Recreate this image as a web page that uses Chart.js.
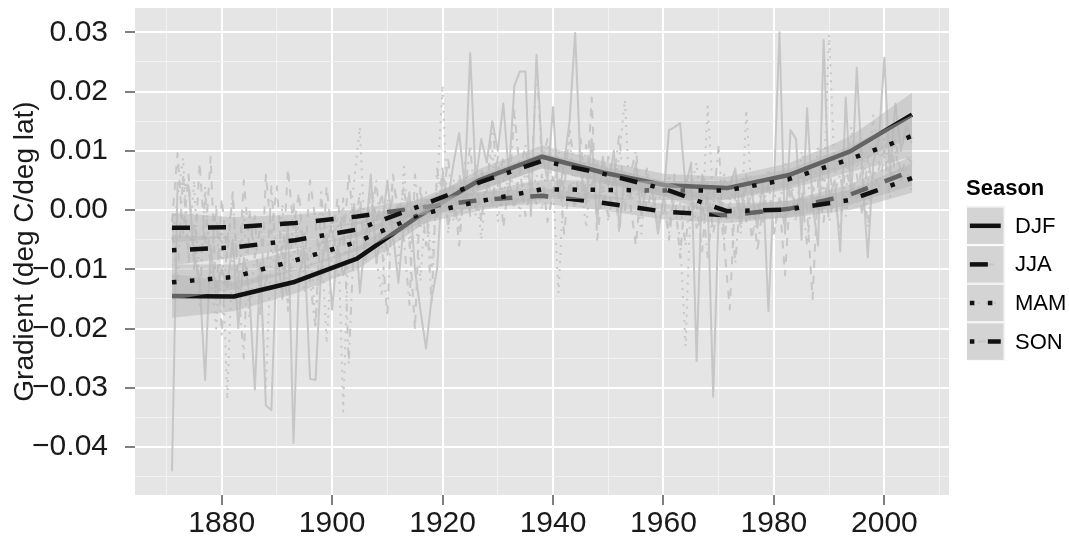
<!DOCTYPE html>
<html><head><meta charset="utf-8">
<script src="https://cdn.jsdelivr.net/npm/chart.js@4.4.1/dist/chart.umd.min.js"></script>
<style>html,body{margin:0;padding:0;background:#fff;}canvas{display:block;}</style>
</head><body>
<canvas id="c" width="1069" height="538"></canvas>
<script>
// ---------------- data ----------------
const seasons = ['DJF', 'JJA', 'MAM', 'SON'];

const years = [
 1871,1872,1873,1874,1875,1876,1877,1878,1879,1880,
 1881,1882,1883,1884,1885,1886,1887,1888,1889,1890,
 1891,1892,1893,1894,1895,1896,1897,1898,1899,1900,
 1901,1902,1903,1904,1905,1906,1907,1908,1909,1910,
 1911,1912,1913,1914,1915,1916,1917,1918,1919,1920,
 1921,1922,1923,1924,1925,1926,1927,1928,1929,1930,
 1931,1932,1933,1934,1935,1936,1937,1938,1939,1940,
 1941,1942,1943,1944,1945,1946,1947,1948,1949,1950,
 1951,1952,1953,1954,1955,1956,1957,1958,1959,1960,
 1961,1962,1963,1964,1965,1966,1967,1968,1969,1970,
 1971,1972,1973,1974,1975,1976,1977,1978,1979,1980,
 1981,1982,1983,1984,1985,1986,1987,1988,1989,1990,
 1991,1992,1993,1994,1995,1996,1997,1998,1999,2000,
 2001,2002,2003,2004,2005];

const djfRaw = [
 -0.0441, 0.0046, 0.0044, 0.0040,-0.0075,-0.0120,-0.0287,-0.0060,-0.0150,-0.0100,
 -0.0130,-0.0050,-0.0199,-0.0080,-0.0140,-0.0303,-0.0090,-0.0330,-0.0338,-0.0060,
 -0.0150,-0.0020,-0.0393,-0.0110,-0.0070,-0.0285,-0.0287,-0.0100,-0.0040,-0.0168,
 -0.0060,-0.0110,-0.0080, 0.0010,-0.0140,-0.0050, 0.0060,-0.0090,-0.0030, 0.0050,
 -0.0040,-0.0123,-0.0020, 0.0030,-0.0100,-0.0170,-0.0234,-0.0150,-0.0100, 0.0060,
  0.0020, 0.0080, 0.0130, 0.0040, 0.0265, 0.0050, 0.0120, 0.0080, 0.0150, 0.0100,
  0.0180, 0.0060, 0.0210, 0.0234, 0.0234,-0.0010, 0.0262, 0.0100, 0.0050, 0.0174,
  0.0020, 0.0080, 0.0150, 0.0299, 0.0070, 0.0010, 0.0120,-0.0020, 0.0090, 0.0040,
  0.0100,-0.0030, 0.0060, 0.0020, 0.0080,-0.0010, 0.0050, 0.0030,-0.0040, 0.0020,
  0.0135, 0.0140, 0.0147, 0.0040, 0.0080,-0.0255, 0.0060, 0.0020,-0.0315, 0.0000,
  0.0050, 0.0040, 0.0070,-0.0020, 0.0060, 0.0030,-0.0030, 0.0050,-0.0171, 0.0040,
  0.0300,-0.0040, 0.0135, 0.0120,-0.0050, 0.0172, 0.0010,-0.0060, 0.0287, 0.0020,
  0.0050,-0.0070, 0.0190, 0.0020, 0.0240, 0.0060,-0.0080, 0.0080, 0.0120, 0.0257,
  0.0060, 0.0180, 0.0100, 0.0140, 0.0120];

const jjaRaw = [
 -0.0020, 0.0096,-0.0040, 0.0060,-0.0100, 0.0080,-0.0060, 0.0090,-0.0150, 0.0020,
 -0.0080, 0.0030,-0.0120, 0.0050,-0.0060,-0.0010,-0.0180, 0.0060,-0.0040, 0.0040,
 -0.0100, 0.0070,-0.0030, 0.0030,-0.0090, 0.0050,-0.0020,-0.0120, 0.0040,-0.0050,
  0.0020,-0.0060, 0.0060,-0.0030, 0.0010,-0.0070, 0.0050,-0.0020, 0.0030,-0.0080,
  0.0060,-0.0010, 0.0040,-0.0050,-0.0202, 0.0040,-0.0060, 0.0020,-0.0020, 0.0070,
 -0.0030, 0.0040,-0.0060, 0.0050,-0.0010, 0.0080,-0.0020, 0.0060, 0.0010, 0.0090,
 -0.0030, 0.0050, 0.0000, 0.0070,-0.0010, 0.0040, 0.0010, 0.0060,-0.0020, 0.0030,
  0.0080,-0.0040, 0.0050, 0.0000, 0.0120, 0.0020, 0.0190,-0.0050, 0.0040,-0.0010,
  0.0060,-0.0040, 0.0070, 0.0010,-0.0060, 0.0050, 0.0000, 0.0040,-0.0030, 0.0020,
 -0.0050, 0.0030,-0.0080, 0.0040,-0.0020, 0.0010,-0.0070, 0.0050,-0.0040, 0.0020,
 -0.0060,-0.0168, 0.0030,-0.0030, 0.0040,-0.0050, 0.0010,-0.0020, 0.0050,-0.0040,
  0.0020,-0.0110, 0.0040,-0.0010, 0.0060, 0.0000,-0.0150, 0.0050,-0.0020, 0.0070,
  0.0010,-0.0030, 0.0080, 0.0020, 0.0060,-0.0010, 0.0090, 0.0030, 0.0070, 0.0100,
  0.0040, 0.0120, 0.0060, 0.0090, 0.0080];

const mamRaw = [
 -0.0050, 0.0020, 0.0088,-0.0080, 0.0050,-0.0150, 0.0040,-0.0100,-0.0200,-0.0040,
 -0.0320,-0.0060,-0.0150, 0.0000,-0.0183,-0.0070,-0.0120,-0.0300,-0.0050,-0.0130,
  0.0010,-0.0160,-0.0080,-0.0020,-0.0140,-0.0060,-0.0190,-0.0030,-0.0225,-0.0070,
 -0.0010,-0.0340,-0.0040, 0.0050, 0.0140,-0.0060, 0.0030,-0.0080,-0.0146, 0.0020,
 -0.0050,-0.0090, 0.0073,-0.0060, 0.0010,-0.0120, 0.0030,-0.0100, 0.0040, 0.0211,
 -0.0040, 0.0050,-0.0030, 0.0080, 0.0000, 0.0060,-0.0050, 0.0040, 0.0100,-0.0020,
  0.0050, 0.0010, 0.0080,-0.0010, 0.0070, 0.0020, 0.0060, 0.0000, 0.0090, 0.0040,
 -0.0140, 0.0060, 0.0120, 0.0010, 0.0050,-0.0030, 0.0080, 0.0020, 0.0060,-0.0020,
  0.0040, 0.0090, 0.0186, 0.0000, 0.0050,-0.0040, 0.0070, 0.0020, 0.0040,-0.0010,
  0.0060, 0.0010,-0.0050,-0.0230, 0.0040, 0.0080,-0.0020, 0.0175, 0.0020,-0.0030,
  0.0060, 0.0010, 0.0040,-0.0040, 0.0169, 0.0020, 0.0050,-0.0010, 0.0070, 0.0030,
  0.0000, 0.0080, 0.0040,-0.0020, 0.0100, 0.0050, 0.0010, 0.0110, 0.0030, 0.0296,
  0.0060, 0.0090, 0.0020, 0.0140, 0.0070, 0.0100, 0.0040, 0.0160, 0.0080, 0.0120,
  0.0060, 0.0170, 0.0100, 0.0140, 0.0110];

const sonRaw = [
 -0.0030,-0.0120, 0.0060,-0.0090,-0.0020,-0.0160, 0.0030,-0.0110, 0.0010,-0.0210,
 -0.0050, 0.0020,-0.0130,-0.0250, 0.0000,-0.0080,-0.0030,-0.0140, 0.0040,-0.0100,
 -0.0060,-0.0170, 0.0010,-0.0090,-0.0040,-0.0120,-0.0200, 0.0030,-0.0070,-0.0010,
 -0.0110, 0.0020,-0.0260,-0.0040, 0.0030,-0.0090,-0.0020, 0.0050,-0.0060,-0.0180,
  0.0040, 0.0010,-0.0050,-0.0160, 0.0060,-0.0030, 0.0020,-0.0160, 0.0070, 0.0010,
  0.0090,-0.0020, 0.0060, 0.0020, 0.0110,-0.0010, 0.0070, 0.0030, 0.0147, 0.0040,
  0.0090, 0.0020, 0.0168, 0.0060, 0.0110, 0.0030, 0.0248, 0.0080, 0.0120, 0.0050,
  0.0100, 0.0030, 0.0140, 0.0060, 0.0020, 0.0110, 0.0040, 0.0080, 0.0010, 0.0090,
  0.0050, 0.0130, 0.0000, 0.0060, 0.0100, 0.0020, 0.0070,-0.0010, 0.0050, 0.0030,
 -0.0040, 0.0060, 0.0010,-0.0060, 0.0040,-0.0030, 0.0020,-0.0080, 0.0010, 0.0110,
 -0.0050, 0.0020,-0.0090, 0.0030,-0.0020, 0.0040,-0.0070, 0.0010, 0.0050,-0.0040,
  0.0020,-0.0030, 0.0060,-0.0010, 0.0030,-0.0060, 0.0040, 0.0000, 0.0070,-0.0020,
  0.0030, 0.0060,-0.0010, 0.0050, 0.0020, 0.0080,-0.0030, 0.0070, 0.0040, 0.0090,
  0.0020, 0.0100, 0.0050, 0.0070, 0.0030];

// loess fits (evaluation points, fit, 95% half-width)
const smoothYears = [1871, 1882.2, 1893.3, 1904.5, 1915.7, 1926.8, 1938, 1949.2, 1960.3, 1971.5, 1982.7, 1993.8, 2005];
const djfSmooth = [-0.0145,-0.0146,-0.0121,-0.0082,-0.0010, 0.0051, 0.0090, 0.0063, 0.0042, 0.0037, 0.0059, 0.0099, 0.0161];
const jjaSmooth = [-0.0030,-0.0029,-0.0022,-0.0011, 0.0004, 0.0017, 0.0024, 0.0012,-0.0003,-0.0009, 0.0002, 0.0026, 0.0066];
const mamSmooth = [-0.0122,-0.0113,-0.0085,-0.0054,-0.0008, 0.0015, 0.0035, 0.0034, 0.0033, 0.0033, 0.0052, 0.0086, 0.0125];
const sonSmooth = [-0.0068,-0.0063,-0.0051,-0.0033, 0.0006, 0.0047, 0.0083, 0.0061, 0.0035,-0.0002, 0.0001, 0.0017, 0.0054];
const djfSe = [0.0037,0.0025,0.0020,0.0019,0.0019,0.0019,0.0019,0.0019,0.0019,0.0019,0.0020,0.0025,0.0037];
const jjaSe = [0.0025,0.0017,0.0014,0.0013,0.0013,0.0013,0.0013,0.0013,0.0013,0.0013,0.0014,0.0017,0.0025];
const mamSe = [0.0030,0.0021,0.0017,0.0016,0.0016,0.0016,0.0016,0.0016,0.0016,0.0016,0.0017,0.0022,0.0035];
const sonSe = [0.0025,0.0017,0.0014,0.0013,0.0013,0.0013,0.0013,0.0013,0.0013,0.0013,0.0014,0.0017,0.0025];

// axes
const xRange = [1864.3, 2011.7];
const yRange = [-0.0481, 0.0341];
const xMajor = [1880, 1900, 1920, 1940, 1960, 1980, 2000];
const xMajorLabels = ['1880', '1900', '1920', '1940', '1960', '1980', '2000'];
const xMinor = [1870, 1890, 1910, 1930, 1950, 1970, 1990, 2010];
const yMajor = [-0.04, -0.03, -0.02, -0.01, 0.00, 0.01, 0.02, 0.03];
const yMajorLabels = ['\u22120.04', '\u22120.03', '\u22120.02', '\u22120.01', '0.00', '0.01', '0.02', '0.03'];
const yMinor = [-0.045, -0.035, -0.025, -0.015, -0.005, 0.005, 0.015, 0.025];
const yTitle = 'Gradient (deg C/deg lat)';
const legendTitle = 'Season';

// ---------------- styles ----------------
const FONT = '"Liberation Sans", Arial, Helvetica, sans-serif';
const PANEL_BG = '#e5e5e5';
const RAW_COLOR = '#c6c6c6';
const BAND_FILL = 'rgba(182,182,182,0.5)';
const LINE_COLOR = '#111111';
const RAW_W = 2;
const FIT_W = 4.5;
const rawDash = [[], [8, 8], [2, 6], [2, 6, 8, 6]];
const fitDash = [[], [18, 18], [4.5, 13.5], [4.5, 13.5, 18, 13.5]];

const rawSets = [djfRaw, jjaRaw, mamRaw, sonRaw];
const fitSets = [djfSmooth, jjaSmooth, mamSmooth, sonSmooth];
const seSets = [djfSe, jjaSe, mamSe, sonSe];

const datasets = [];
rawSets.forEach((arr, i) => {
  datasets.push({
    label: seasons[i] + ' annual',
    data: years.map((yr, k) => ({x: yr, y: arr[k]})),
    borderColor: RAW_COLOR, borderWidth: RAW_W, borderDash: rawDash[i],
    borderCapStyle: 'butt', borderJoinStyle: 'round',
    pointRadius: 0, fill: false
  });
});
fitSets.forEach((arr, i) => {
  datasets.push({
    label: seasons[i] + ' lower',
    data: smoothYears.map((yr, k) => ({x: yr, y: arr[k] - seSets[i][k]})),
    borderColor: 'rgba(0,0,0,0)', borderWidth: 0, pointRadius: 0, fill: false
  });
  datasets.push({
    label: seasons[i] + ' upper',
    data: smoothYears.map((yr, k) => ({x: yr, y: arr[k] + seSets[i][k]})),
    borderColor: 'rgba(0,0,0,0)', borderWidth: 0, pointRadius: 0,
    fill: '-1', backgroundColor: BAND_FILL
  });
  datasets.push({
    label: seasons[i],
    data: smoothYears.map((yr, k) => ({x: yr, y: arr[k]})),
    borderColor: LINE_COLOR, borderWidth: FIT_W, borderDash: fitDash[i],
    borderCapStyle: 'butt', borderJoinStyle: 'round',
    pointRadius: 0, fill: false
  });
});
datasets.forEach((d, i) => { d.order = -i; });

const isMajorX = v => xMajor.some(m => Math.abs(m - v) < 1e-6);
const isMajorY = v => yMajor.some(m => Math.abs(m - v) < 1e-9);

const panelPlugin = {
  id: 'panel',
  beforeDraw(chart) {
    const {ctx, chartArea: a} = chart;
    ctx.save();
    ctx.fillStyle = PANEL_BG;
    ctx.fillRect(a.left, a.top, a.right - a.left, a.bottom - a.top);
    ctx.restore();
  },
  afterDraw(chart) {
    const ctx = chart.ctx;
    const kx = 966, ky = 206.5, ks = 38.6, tx = 1015;
    ctx.save();
    ctx.fillStyle = '#000';
    ctx.textBaseline = 'middle';
    ctx.textAlign = 'left';
    ctx.font = 'bold 22px ' + FONT;
    ctx.fillText(legendTitle, kx, 189);
    seasons.forEach((s, i) => {
      const y0 = ky + i * ks, yc = y0 + ks / 2;
      ctx.setLineDash([]);
      ctx.fillStyle = '#f2f2f2';
      ctx.fillRect(kx, y0, ks, ks);
      ctx.fillStyle = BAND_FILL;
      ctx.fillRect(kx, y0, ks, ks);
      ctx.strokeStyle = '#ffffff';
      ctx.lineWidth = 1;
      ctx.strokeRect(kx + 0.5, y0 + 0.5, ks - 1, ks - 1);
      ctx.lineCap = 'butt';
      ctx.strokeStyle = RAW_COLOR;
      ctx.lineWidth = RAW_W;
      ctx.setLineDash(rawDash[i]);
      ctx.beginPath(); ctx.moveTo(kx + 0.1 * ks, yc); ctx.lineTo(kx + 0.9 * ks, yc); ctx.stroke();
      ctx.strokeStyle = LINE_COLOR;
      ctx.lineWidth = FIT_W;
      ctx.setLineDash(fitDash[i]);
      ctx.beginPath(); ctx.moveTo(kx + 0.1 * ks, yc); ctx.lineTo(kx + 0.9 * ks, yc); ctx.stroke();
      ctx.setLineDash([]);
      ctx.fillStyle = '#000';
      ctx.font = '22px ' + FONT;
      ctx.fillText(s, tx, yc + 1);
    });
    ctx.restore();
  }
};

Chart.defaults.font.family = FONT;
Chart.defaults.color = '#1a1a1a';

new Chart(document.getElementById('c'), {
  type: 'line',
  data: {datasets},
  options: {
    responsive: false,
    animation: false,
    events: [],
    devicePixelRatio: 1,
    layout: {padding: {top: 8, right: 120, left: 0, bottom: 0}},
    plugins: {legend: {display: false}, tooltip: {enabled: false}, filler: {propagate: false}},
    scales: {
      x: {
        type: 'linear', min: xRange[0], max: xRange[1],
        afterBuildTicks: s => { s.ticks = xMajor.concat(xMinor).sort((a, b) => a - b).map(v => ({value: v})); },
        afterFit: s => { s.height = 43; s.paddingLeft = 0; s.paddingRight = 0; },
        border: {display: false},
        grid: {
          color: c => isMajorX(c.tick.value) ? '#ffffff' : '#f2f2f2',
          lineWidth: c => isMajorX(c.tick.value) ? 2 : 1,
          tickColor: c => isMajorX(c.tick.value) ? '#7f7f7f' : 'rgba(0,0,0,0)',
          tickWidth: 2, tickLength: 10, drawTicks: true
        },
        ticks: {
          autoSkip: false, maxRotation: 0, padding: 1,
          font: {size: 30}, color: '#1a1a1a',
          callback: v => { const i = xMajor.findIndex(m => Math.abs(m - v) < 1e-6); return i >= 0 ? xMajorLabels[i] : ''; }
        }
      },
      y: {
        type: 'linear', min: yRange[0], max: yRange[1],
        afterBuildTicks: s => { s.ticks = yMajor.concat(yMinor).sort((a, b) => a - b).map(v => ({value: v})); },
        afterFit: s => { s.width = 135; s.paddingTop = 0; s.paddingBottom = 0; },
        border: {display: false},
        grid: {
          color: c => isMajorY(c.tick.value) ? '#ffffff' : '#f2f2f2',
          lineWidth: c => isMajorY(c.tick.value) ? 2 : 1,
          tickColor: c => isMajorY(c.tick.value) ? '#7f7f7f' : 'rgba(0,0,0,0)',
          tickWidth: 2, tickLength: 10, drawTicks: true
        },
        ticks: {
          autoSkip: false, padding: 17,
          font: {size: 30}, color: '#1a1a1a',
          callback: v => { const i = yMajor.findIndex(m => Math.abs(m - v) < 1e-9); return i >= 0 ? yMajorLabels[i] : ''; }
        },
        title: {display: true, text: yTitle, font: {size: 28}, color: '#1a1a1a', padding: {top: 8, bottom: 0}}
      }
    }
  },
  plugins: [panelPlugin]
});
</script>
</body></html>
